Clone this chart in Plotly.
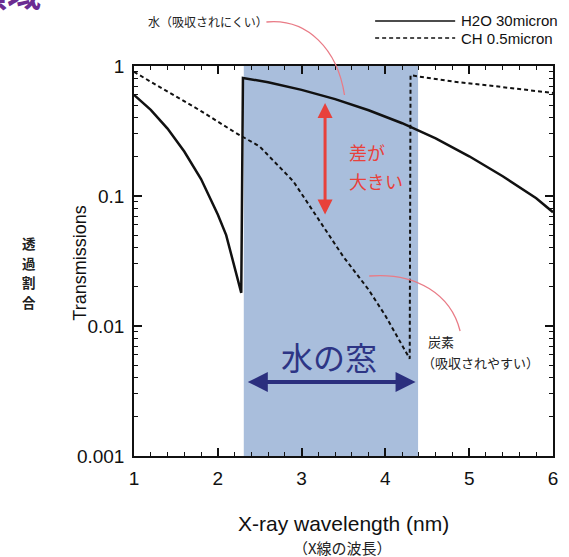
import plotly.graph_objects as go

# ---------------- data ----------------
h2o_wavelength = [1.0, 1.2, 1.4, 1.6, 1.8, 2.0, 2.1, 2.2, 2.28, 2.30, 2.6, 3.0, 3.4,
                  3.8, 4.2, 4.6, 5.0, 5.4, 5.8, 6.0]
h2o_trans = [0.60, 0.46, 0.33, 0.22, 0.135, 0.072, 0.050, 0.029, 0.018, 0.81, 0.75,
             0.655, 0.556, 0.457, 0.363, 0.277, 0.202, 0.142, 0.096, 0.075]

ch_wavelength = [1.0, 1.4, 1.8, 2.2, 2.5, 2.9, 3.3, 3.5, 3.8, 4.0, 4.29, 4.30, 4.4,
                 4.8, 5.3, 6.0]
ch_trans = [0.90, 0.64, 0.45, 0.31, 0.24, 0.13, 0.053, 0.034, 0.019, 0.012, 0.0056,
            0.85, 0.83, 0.76, 0.70, 0.62]

series_names = ["H2O 30micron", "CH 0.5micron"]
window_range = [2.31, 4.39]
x_ticks = [1, 2, 3, 4, 5, 6]
y_ticks = [0.001, 0.01, 0.1, 1]
y_tick_labels = ["0.001", "0.01", "0.1", "1"]

# ---------------- layout helpers (pixel -> paper) ----------------
W, H = 569, 557
L, R, T, B = 134, 11, 66, 101
PW, PH = W - L - R, H - T - B


def px(xp):
    return (xp - L) / PW


def py(yp):
    return (H - B - yp) / PH


FONT = "Liberation Sans, Arial, sans-serif"
JFONT = "Noto Sans CJK JP, sans-serif"
INK = "#111111"

fig = go.Figure()
fig.add_trace(go.Scatter(x=h2o_wavelength, y=h2o_trans, mode="lines",
                         name=series_names[0], showlegend=False,
                         line=dict(color=INK, width=2.5)))
fig.add_trace(go.Scatter(x=ch_wavelength, y=ch_trans, mode="lines",
                         name=series_names[1], showlegend=False,
                         line=dict(color=INK, width=2, dash="4px,3px")))

# water window shading
fig.add_shape(type="rect", xref="x", yref="paper", x0=window_range[0],
              x1=window_range[1], y0=0, y1=1, layer="below",
              fillcolor="#a9bedc", line=dict(width=0))

# pink pointer curves
def cpath(p0, c1, c2, p1):
    return "M {} {} C {} {}, {} {}, {} {}".format(
        px(p0[0]), py(p0[1]), px(c1[0]), py(c1[1]),
        px(c2[0]), py(c2[1]), px(p1[0]), py(p1[1]))


fig.add_shape(type="path", xref="paper", yref="paper",
              path=cpath((268, 22), (310, 18), (340, 50), (347, 95)),
              line=dict(color="#e97b86", width=1.3))
fig.add_shape(type="path", xref="paper", yref="paper",
              path=cpath((372, 276), (420, 272), (455, 295), (464, 331)),
              line=dict(color="#e97b86", width=1.3))

# manual legend (long line samples as in the reference)
legend_y = [21, 38]
legend_dash = ["solid", "4px,3px"]
for i, name in enumerate(series_names):
    fig.add_shape(type="line", xref="paper", yref="paper", x0=px(378), x1=px(459),
                  y0=py(legend_y[i]), y1=py(legend_y[i]),
                  line=dict(color=INK, width=1.6 if i == 0 else 1.5,
                            dash=legend_dash[i]))

ann = []
for i, name in enumerate(series_names):
    ann.append(dict(xref="paper", yref="paper", x=px(463), y=py(legend_y[i]),
                    text=name, showarrow=False, xanchor="left", yanchor="middle",
                    font=dict(family=FONT, size=15, color=INK)))
# red double arrow
ann.append(dict(xref="x", yref="paper", x=3.28, y=py(103), axref="pixel",
                ayref="pixel", ax=0, ay=113, showarrow=True, arrowside="end+start",
                arrowhead=2, arrowsize=1.0, arrowwidth=3, arrowcolor="#e8413b",
                text=""))
ann.append(dict(xref="paper", yref="paper", x=px(350), y=py(152), text="差が",
                showarrow=False, xanchor="left", yanchor="middle",
                font=dict(family=JFONT, size=18, color="#e8413b")))
ann.append(dict(xref="paper", yref="paper", x=px(350), y=py(181), text="大きい",
                showarrow=False, xanchor="left", yanchor="middle",
                font=dict(family=JFONT, size=18, color="#e8413b")))
# blue double arrow
ann.append(dict(xref="x", yref="paper", x=4.36, y=py(382), axref="x",
                ayref="pixel", ax=2.34, ay=0, showarrow=True, arrowside="end+start",
                arrowhead=2, arrowsize=1.0, arrowwidth=4, arrowcolor="#2b2f7e",
                text=""))
ann.append(dict(xref="paper", yref="paper", x=px(331), y=py(356), text="水の窓",
                showarrow=False, xanchor="center", yanchor="middle",
                font=dict(family=JFONT, size=32, color="#2d3585")))
# labels
ann.append(dict(xref="paper", yref="paper", x=px(272), y=py(22),
                text="水（吸収されにくい）", showarrow=False, xanchor="right",
                yanchor="middle", font=dict(family=JFONT, size=12, color="#222222")))
ann.append(dict(xref="paper", yref="paper", x=px(429), y=py(341), text="炭素",
                showarrow=False, xanchor="left", yanchor="middle",
                font=dict(family=JFONT, size=13, color="#222222")))
ann.append(dict(xref="paper", yref="paper", x=px(423), y=py(362),
                text="（吸収されやすい）", showarrow=False, xanchor="left",
                yanchor="middle", font=dict(family=JFONT, size=13, color="#222222")))
# axis titles
ann.append(dict(xref="paper", yref="paper", x=px(79), y=py(263),
                text="Transmissions", textangle=-90, showarrow=False,
                xanchor="center", yanchor="middle",
                font=dict(family=FONT, size=18, color=INK)))
for i, ch in enumerate("透過割合"):
    ann.append(dict(xref="paper", yref="paper", x=px(28), y=py(243 + 19.5 * i),
                    text="<b>" + ch + "</b>", showarrow=False,
                    xanchor="center", yanchor="middle",
                    font=dict(family=JFONT, size=13.5, color="#222222")))
ann.append(dict(xref="paper", yref="paper", x=px(346), y=py(523),
                text="X-ray wavelength (nm)", showarrow=False,
                xanchor="center", yanchor="middle",
                font=dict(family=FONT, size=21, color=INK)))
ann.append(dict(xref="paper", yref="paper", x=px(345), y=py(547),
                text="（X線の波長）", showarrow=False,
                xanchor="center", yanchor="middle",
                font=dict(family=JFONT, size=15, color="#222222")))
# clipped heading fragment at top-left
ann.append(dict(xref="paper", yref="paper", x=px(42), y=py(-8),
                text="<b>領域</b>", showarrow=False, xanchor="right",
                yanchor="middle",
                font=dict(family=JFONT, size=34, color="#6b2c91")))

fig.update_layout(
    width=W, height=H,
    margin=dict(l=L, r=R, t=T, b=B),
    paper_bgcolor="white", plot_bgcolor="white",
    annotations=ann,
    showlegend=False,
    font=dict(family=FONT, color=INK),
)
fig.update_xaxes(range=[1, 6], tickvals=x_ticks, ticks="inside", ticklen=8,
                 tickwidth=1.5, tickcolor=INK, showline=True, linewidth=1.5,
                 linecolor=INK, mirror="ticks", showgrid=False, zeroline=False,
                 ticklabelstandoff=4,
                 tickfont=dict(family=FONT, size=19, color=INK),
                 minor=dict(dtick=0.2, ticks="inside", ticklen=4, tickwidth=1.2,
                            tickcolor=INK, showgrid=False))
fig.update_yaxes(type="log", range=[-3, 0], tickvals=y_ticks, ticktext=y_tick_labels,
                 ticks="inside", ticklen=8, tickwidth=1.5, tickcolor=INK,
                 showline=True, linewidth=1.5, linecolor=INK, mirror="ticks",
                 showgrid=False, zeroline=False, ticklabelstandoff=4,
                 tickfont=dict(family=FONT, size=19, color=INK),
                 minor=dict(dtick="D1", ticks="inside", ticklen=4, tickwidth=1.2,
                            tickcolor=INK, showgrid=False))

fig.write_html("out.html", config={"displayModeBar": False},
               post_script="document.body.style.margin='0px';")
